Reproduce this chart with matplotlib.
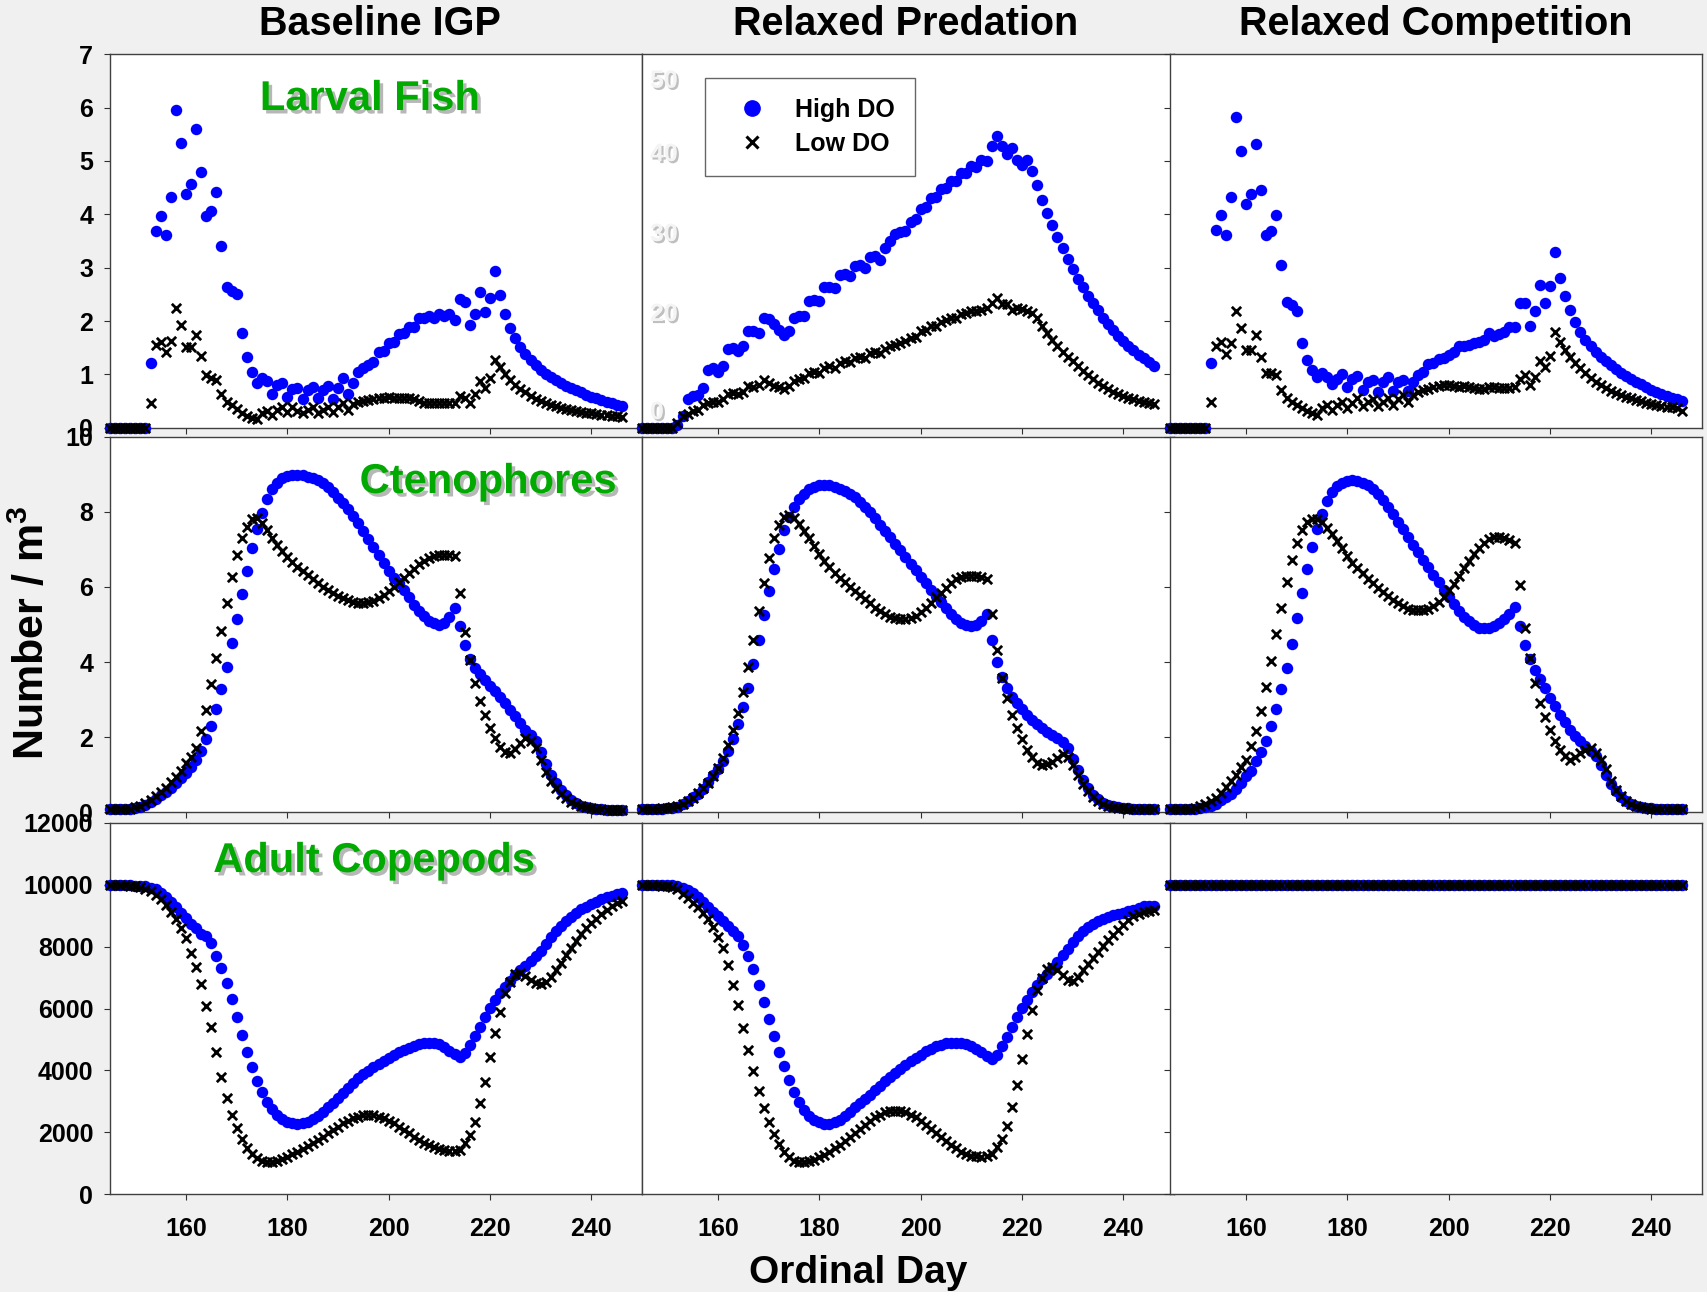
import matplotlib
matplotlib.use('Agg')
import matplotlib.pyplot as plt
import matplotlib.patheffects as pe
from matplotlib.lines import Line2D

plt.rcParams['font.family'] = ['Liberation Sans', 'DejaVu Sans']
plt.rcParams['font.weight'] = 'bold'
plt.rcParams['mathtext.fontset'] = 'custom'
plt.rcParams['mathtext.rm'] = 'Liberation Sans'
plt.rcParams['mathtext.bf'] = 'Liberation Sans:bold'

# ordinal days 145 .. 246
days = list(range(145, 247))

col_titles = ['Baseline IGP', 'Relaxed Predation', 'Relaxed Competition']
row_names = ['Larval Fish', 'Ctenophores', 'Adult Copepods']
legend_labels = ['High DO', 'Low DO']
x_ticks = [160, 180, 200, 220, 240]
ghost_labels = ['50', '40', '30', '20', '0']

# ---- Larval fish ----
fish_base_high = [0, 0, 0, 0, 0,
    0, 0, 0, 1.21, 3.69, 3.96, 3.61, 4.33, 5.96, 5.34,
    4.39, 4.57, 5.60, 4.79, 3.97, 4.07, 4.41, 3.41, 2.63, 2.57,
    2.50, 1.78, 1.33, 1.05, 0.84, 0.94, 0.88, 0.64, 0.80, 0.83,
    0.57, 0.72, 0.74, 0.54, 0.71, 0.77, 0.55, 0.71, 0.78, 0.54,
    0.74, 0.94, 0.64, 0.84, 1.05, 1.11, 1.17, 1.24, 1.41, 1.44,
    1.59, 1.61, 1.75, 1.77, 1.88, 1.88, 2.05, 2.05, 2.10, 2.05,
    2.14, 2.09, 2.14, 2.02, 2.41, 2.36, 1.93, 2.14, 2.54, 2.16,
    2.44, 2.94, 2.49, 2.13, 1.86, 1.68, 1.52, 1.38, 1.27, 1.18,
    1.09, 1.01, 0.95, 0.89, 0.83, 0.78, 0.74, 0.70, 0.66, 0.62,
    0.58, 0.55, 0.52, 0.49, 0.46, 0.43, 0.40]
fish_base_low = [0, 0, 0, 0, 0,
    0, 0, 0, 0.47, 1.55, 1.61, 1.41, 1.63, 2.24, 1.93,
    1.52, 1.52, 1.73, 1.34, 0.99, 0.94, 0.89, 0.63, 0.49, 0.43,
    0.35, 0.27, 0.22, 0.19, 0.16, 0.27, 0.32, 0.23, 0.33, 0.39,
    0.30, 0.38, 0.32, 0.27, 0.34, 0.38, 0.28, 0.34, 0.39, 0.29,
    0.38, 0.46, 0.33, 0.44, 0.49, 0.50, 0.52, 0.54, 0.55, 0.56,
    0.57, 0.55, 0.55, 0.56, 0.56, 0.54, 0.50, 0.47, 0.47, 0.46,
    0.46, 0.46, 0.46, 0.46, 0.59, 0.55, 0.47, 0.64, 0.87, 0.75,
    0.93, 1.26, 1.14, 1.00, 0.89, 0.80, 0.72, 0.66, 0.59, 0.54,
    0.50, 0.46, 0.43, 0.40, 0.37, 0.35, 0.33, 0.31, 0.29, 0.28,
    0.27, 0.26, 0.24, 0.23, 0.22, 0.21, 0.20]
fish_pred_high = [0, 0, 0, 0, 0,
    0, 0, 0.4, 1.5, 3.9, 4.3, 4.4, 5.3, 7.7, 8.0,
    7.5, 8.3, 10.6, 10.7, 10.3, 10.9, 13.0, 13.0, 12.7, 14.7,
    14.6, 13.9, 13.1, 12.4, 12.9, 14.7, 15.0, 14.9, 16.9, 17.1,
    16.9, 18.8, 18.9, 18.7, 20.5, 20.6, 20.3, 21.6, 21.8, 21.4,
    22.9, 23.0, 22.5, 24.0, 25.0, 25.9, 26.2, 26.3, 27.6, 28.0,
    29.3, 29.5, 30.8, 30.9, 32.0, 32.1, 33.1, 33.1, 34.1, 34.1,
    35.0, 34.9, 35.8, 35.7, 37.7, 39.0, 37.7, 36.7, 37.4, 35.8,
    35.2, 35.9, 34.4, 32.5, 30.5, 28.8, 27.1, 25.5, 24.0, 22.6,
    21.2, 19.9, 18.8, 17.7, 16.7, 15.7, 14.7, 13.9, 13.1, 12.3,
    11.6, 11.0, 10.4, 9.8, 9.3, 8.8, 8.2]
fish_pred_low = [0, 0, 0, 0, 0,
    0, 0, 0.6, 1.6, 1.9, 2.2, 2.4, 3.0, 3.3, 3.5,
    3.4, 3.9, 4.5, 4.6, 4.5, 4.8, 5.6, 5.5, 5.7, 6.4,
    6.0, 5.6, 5.4, 5.2, 5.6, 6.3, 6.5, 6.6, 7.3, 7.4,
    7.3, 8.0, 8.2, 8.0, 8.7, 8.9, 8.8, 9.3, 9.5, 9.4,
    10.0, 10.1, 10.0, 10.6, 11.0, 11.1, 11.4, 11.6, 12.0, 12.2,
    12.9, 13.1, 13.6, 13.6, 14.2, 14.4, 14.7, 14.7, 15.2, 15.3,
    15.6, 15.6, 15.8, 16.0, 16.7, 17.4, 16.5, 16.5, 15.8, 16.0,
    15.9, 15.6, 15.3, 14.7, 13.6, 12.7, 11.8, 11.0, 10.2, 9.5,
    8.9, 8.2, 7.6, 7.1, 6.5, 6.0, 5.6, 5.2, 4.8, 4.5,
    4.2, 4.0, 3.8, 3.6, 3.4, 3.3, 3.2]
fish_comp_high = [0, 0, 0, 0, 0,
    0, 0, 0, 1.22, 3.71, 3.98, 3.62, 4.32, 5.82, 5.18,
    4.20, 4.39, 5.31, 4.46, 3.62, 3.69, 3.98, 3.05, 2.36, 2.30,
    2.19, 1.59, 1.27, 1.08, 0.95, 1.03, 0.95, 0.81, 0.92, 1.00,
    0.76, 0.91, 0.96, 0.70, 0.86, 0.90, 0.67, 0.85, 0.95, 0.69,
    0.85, 0.89, 0.69, 0.85, 0.98, 1.05, 1.20, 1.22, 1.28, 1.30,
    1.36, 1.42, 1.53, 1.53, 1.55, 1.58, 1.61, 1.65, 1.78, 1.72,
    1.75, 1.79, 1.89, 1.88, 2.33, 2.33, 1.91, 2.19, 2.68, 2.33,
    2.66, 3.29, 2.80, 2.46, 2.20, 1.99, 1.80, 1.65, 1.53, 1.42,
    1.33, 1.25, 1.17, 1.10, 1.03, 0.97, 0.91, 0.86, 0.81, 0.76,
    0.71, 0.67, 0.63, 0.60, 0.56, 0.53, 0.50]
fish_comp_low = [0, 0, 0, 0, 0,
    0, 0, 0, 0.48, 1.53, 1.61, 1.38, 1.58, 2.19, 1.86,
    1.45, 1.45, 1.74, 1.33, 1.02, 1.02, 0.98, 0.70, 0.55, 0.48,
    0.42, 0.36, 0.31, 0.28, 0.24, 0.36, 0.42, 0.34, 0.43, 0.48,
    0.37, 0.46, 0.55, 0.41, 0.48, 0.53, 0.41, 0.49, 0.56, 0.42,
    0.53, 0.61, 0.48, 0.61, 0.67, 0.70, 0.73, 0.76, 0.78, 0.80,
    0.80, 0.78, 0.76, 0.78, 0.76, 0.75, 0.73, 0.73, 0.76, 0.76,
    0.75, 0.75, 0.75, 0.76, 0.92, 0.98, 0.80, 0.95, 1.25, 1.14,
    1.35, 1.79, 1.61, 1.45, 1.33, 1.22, 1.11, 1.02, 0.93, 0.86,
    0.80, 0.74, 0.69, 0.65, 0.61, 0.58, 0.55, 0.52, 0.50, 0.47,
    0.45, 0.43, 0.41, 0.39, 0.38, 0.36, 0.31]

# ---- Ctenophores ----
cteno_base_high = [0.10, 0.10, 0.10, 0.10, 0.10,
    0.12, 0.15, 0.20, 0.27, 0.35, 0.45, 0.55, 0.66, 0.78, 0.91,
    1.05, 1.20, 1.38, 1.63, 1.94, 2.31, 2.75, 3.28, 3.86, 4.50,
    5.15, 5.80, 6.42, 7.03, 7.53, 7.96, 8.33, 8.60, 8.78, 8.90,
    8.96, 8.99, 8.99, 8.97, 8.94, 8.90, 8.85, 8.77, 8.66, 8.53,
    8.38, 8.23, 8.07, 7.90, 7.71, 7.50, 7.28, 7.07, 6.85, 6.63,
    6.42, 6.25, 6.10, 5.92, 5.72, 5.52, 5.36, 5.22, 5.10, 5.03,
    5.00, 5.05, 5.20, 5.45, 4.95, 4.45, 4.07, 3.85, 3.68, 3.52,
    3.37, 3.22, 3.07, 2.90, 2.73, 2.56, 2.38, 2.20, 2.05, 1.90,
    1.60, 1.28, 1.00, 0.78, 0.60, 0.45, 0.33, 0.24, 0.18, 0.14,
    0.11, 0.09, 0.08, 0.07, 0.06, 0.06, 0.05]
cteno_base_low = [0.08, 0.08, 0.08, 0.09, 0.10,
    0.13, 0.18, 0.25, 0.33, 0.43, 0.54, 0.66, 0.80, 0.95, 1.10,
    1.30, 1.48, 1.70, 2.17, 2.72, 3.41, 4.10, 4.84, 5.58, 6.27,
    6.85, 7.29, 7.60, 7.80, 7.83, 7.71, 7.52, 7.29, 7.12, 6.97,
    6.81, 6.67, 6.54, 6.42, 6.32, 6.21, 6.11, 6.01, 5.92, 5.83,
    5.76, 5.70, 5.65, 5.61, 5.58, 5.58, 5.60, 5.63, 5.70, 5.79,
    5.89, 6.01, 6.12, 6.25, 6.36, 6.48, 6.60, 6.70, 6.78, 6.83,
    6.85, 6.85, 6.85, 6.83, 5.85, 4.81, 4.05, 3.43, 2.95, 2.59,
    2.24, 1.97, 1.75, 1.61, 1.59, 1.68, 1.84, 1.97, 1.91, 1.70,
    1.39, 1.08, 0.83, 0.64, 0.49, 0.37, 0.28, 0.21, 0.16, 0.13,
    0.11, 0.09, 0.08, 0.07, 0.07, 0.06, 0.06]
cteno_pred_high = [0.10, 0.10, 0.10, 0.10, 0.10,
    0.11, 0.12, 0.15, 0.22, 0.30, 0.40, 0.50, 0.63, 0.80, 0.98,
    1.14, 1.36, 1.63, 1.94, 2.34, 2.80, 3.32, 3.94, 4.58, 5.24,
    5.89, 6.49, 7.00, 7.51, 7.87, 8.13, 8.34, 8.47, 8.60, 8.67,
    8.71, 8.72, 8.71, 8.67, 8.62, 8.56, 8.48, 8.39, 8.27, 8.14,
    7.99, 7.84, 7.66, 7.49, 7.32, 7.15, 6.98, 6.80, 6.62, 6.44,
    6.27, 6.10, 5.93, 5.76, 5.60, 5.43, 5.27, 5.14, 5.04, 4.98,
    4.96, 5.00, 5.10, 5.27, 4.60, 4.00, 3.60, 3.30, 3.08, 2.90,
    2.74, 2.60, 2.47, 2.36, 2.25, 2.15, 2.06, 1.97, 1.88, 1.70,
    1.42, 1.13, 0.86, 0.64, 0.47, 0.35, 0.26, 0.20, 0.16, 0.14,
    0.12, 0.11, 0.10, 0.10, 0.09, 0.09, 0.09]
cteno_pred_low = [0.10, 0.10, 0.10, 0.10, 0.11,
    0.12, 0.14, 0.17, 0.21, 0.29, 0.38, 0.52, 0.65, 0.78, 0.96,
    1.18, 1.45, 1.79, 2.18, 2.65, 3.21, 3.88, 4.60, 5.36, 6.10,
    6.78, 7.30, 7.64, 7.87, 7.92, 7.83, 7.67, 7.49, 7.30, 7.09,
    6.89, 6.69, 6.52, 6.38, 6.25, 6.13, 6.01, 5.89, 5.79, 5.67,
    5.56, 5.45, 5.36, 5.27, 5.20, 5.16, 5.14, 5.14, 5.16, 5.23,
    5.32, 5.43, 5.58, 5.72, 5.85, 5.98, 6.10, 6.20, 6.27, 6.29,
    6.29, 6.28, 6.27, 6.20, 5.27, 4.31, 3.58, 3.05, 2.59, 2.25,
    1.94, 1.67, 1.47, 1.32, 1.27, 1.29, 1.34, 1.45, 1.54, 1.47,
    1.27, 1.00, 0.76, 0.56, 0.41, 0.29, 0.22, 0.17, 0.14, 0.12,
    0.11, 0.10, 0.09, 0.09, 0.08, 0.08, 0.08]
cteno_comp_high = [0.08, 0.08, 0.08, 0.08, 0.09,
    0.10, 0.11, 0.13, 0.17, 0.22, 0.32, 0.40, 0.50, 0.62, 0.78,
    0.96, 1.11, 1.36, 1.60, 1.91, 2.29, 2.74, 3.27, 3.85, 4.49,
    5.18, 5.85, 6.49, 7.07, 7.54, 7.94, 8.28, 8.52, 8.69, 8.78,
    8.83, 8.84, 8.83, 8.78, 8.71, 8.60, 8.47, 8.31, 8.13, 7.94,
    7.74, 7.54, 7.33, 7.12, 6.92, 6.71, 6.52, 6.32, 6.12, 5.91,
    5.72, 5.54, 5.36, 5.21, 5.08, 4.98, 4.92, 4.90, 4.92, 4.96,
    5.03, 5.14, 5.27, 5.47, 4.96, 4.45, 4.09, 3.80, 3.54, 3.30,
    3.05, 2.83, 2.60, 2.41, 2.20, 2.03, 1.89, 1.76, 1.63, 1.49,
    1.27, 1.00, 0.76, 0.56, 0.40, 0.29, 0.22, 0.17, 0.14, 0.12,
    0.11, 0.10, 0.09, 0.09, 0.08, 0.08, 0.08]
cteno_comp_low = [0.08, 0.08, 0.08, 0.09, 0.10,
    0.12, 0.16, 0.22, 0.29, 0.38, 0.52, 0.67, 0.83, 1.00, 1.20,
    1.40, 1.76, 2.16, 2.71, 3.33, 4.03, 4.74, 5.45, 6.12, 6.71,
    7.16, 7.51, 7.72, 7.80, 7.80, 7.72, 7.58, 7.40, 7.23, 7.03,
    6.83, 6.65, 6.50, 6.36, 6.22, 6.10, 5.98, 5.87, 5.76, 5.65,
    5.56, 5.48, 5.42, 5.39, 5.38, 5.39, 5.42, 5.49, 5.61, 5.74,
    5.91, 6.09, 6.29, 6.50, 6.68, 6.87, 7.05, 7.18, 7.27, 7.33,
    7.33, 7.30, 7.24, 7.16, 6.05, 4.92, 4.10, 3.43, 2.92, 2.53,
    2.18, 1.89, 1.67, 1.49, 1.40, 1.47, 1.58, 1.67, 1.72, 1.58,
    1.40, 1.14, 0.84, 0.60, 0.43, 0.31, 0.22, 0.17, 0.13, 0.11,
    0.10, 0.09, 0.09, 0.08, 0.08, 0.08, 0.08]

# ---- Adult copepods ----
cope_base_high = [10000, 9995, 9990, 9985, 9980,
    9970, 9960, 9940, 9900, 9845, 9738, 9609, 9447, 9264, 9071,
    8909, 8740, 8590, 8420, 8340, 8102, 7704, 7295, 6832, 6305,
    5724, 5143, 4605, 4121, 3658, 3293, 2991, 2744, 2561, 2432,
    2346, 2292, 2270, 2292, 2346, 2432, 2539, 2668, 2808, 2959,
    3120, 3282, 3443, 3605, 3745, 3874, 3992, 4100, 4207, 4304,
    4412, 4498, 4584, 4659, 4724, 4788, 4842, 4874, 4896, 4896,
    4842, 4745, 4638, 4519, 4444, 4552, 4820, 5111, 5412, 5713,
    6004, 6273, 6510, 6703, 6897, 7080, 7241, 7381, 7532, 7693,
    7866, 8070, 8296, 8500, 8672, 8834, 8963, 9092, 9200, 9286,
    9372, 9447, 9523, 9587, 9640, 9690, 9720]
cope_base_low = [9990, 9985, 9980, 9975, 9965,
    9950, 9920, 9870, 9780, 9662, 9522, 9339, 9125, 8877, 8586,
    8264, 7801, 7349, 6789, 6079, 5412, 4584, 3798, 3099, 2561,
    2130, 1775, 1506, 1302, 1162, 1087, 1054, 1054, 1087, 1141,
    1216, 1291, 1377, 1463, 1560, 1646, 1754, 1861, 1969, 2077,
    2184, 2292, 2378, 2453, 2507, 2550, 2561, 2550, 2507, 2453,
    2378, 2292, 2184, 2077, 1969, 1861, 1754, 1668, 1582, 1517,
    1463, 1431, 1410, 1410, 1431, 1646, 1915, 2346, 2937, 3637,
    4444, 5197, 5896, 6488, 6865, 7112, 7155, 7048, 6919, 6811,
    6779, 6865, 7026, 7241, 7478, 7726, 7962, 8188, 8393, 8586,
    8748, 8899, 9039, 9178, 9307, 9400, 9460]
cope_pred_high = [10000, 9995, 9990, 9990, 9985,
    9985, 9980, 9960, 9900, 9825, 9740, 9615, 9455, 9290, 9130,
    8990, 8830, 8670, 8490, 8341, 8060, 7694, 7285, 6746, 6207,
    5668, 5108, 4591, 4138, 3707, 3319, 2996, 2737, 2543, 2414,
    2328, 2274, 2274, 2328, 2414, 2543, 2672, 2813, 2953, 3082,
    3222, 3373, 3513, 3653, 3782, 3922, 4052, 4181, 4300, 4407,
    4504, 4612, 4698, 4774, 4828, 4871, 4892, 4892, 4881, 4838,
    4785, 4698, 4591, 4461, 4354, 4504, 4774, 5075, 5399, 5722,
    6013, 6282, 6530, 6746, 6940, 7123, 7306, 7500, 7715, 7931,
    8147, 8341, 8502, 8632, 8739, 8826, 8901, 8955, 9009, 9063,
    9095, 9138, 9192, 9246, 9300, 9320, 9300]
cope_pred_low = [9990, 9985, 9980, 9975, 9965,
    9950, 9925, 9850, 9709, 9569, 9418, 9278, 9095, 8901, 8632,
    8308, 7953, 7414, 6767, 6099, 5377, 4666, 3976, 3330, 2791,
    2349, 1950, 1627, 1379, 1196, 1088, 1034, 1034, 1067, 1121,
    1196, 1282, 1379, 1487, 1595, 1713, 1843, 1972, 2112, 2241,
    2381, 2489, 2575, 2651, 2694, 2705, 2694, 2651, 2575, 2489,
    2381, 2252, 2112, 1972, 1843, 1713, 1595, 1487, 1379, 1304,
    1250, 1228, 1218, 1228, 1304, 1519, 1789, 2220, 2813, 3535,
    4354, 5162, 5938, 6584, 6983, 7263, 7339, 7231, 7069, 6907,
    6886, 7015, 7231, 7446, 7629, 7823, 8006, 8200, 8384, 8545,
    8707, 8847, 8976, 9063, 9117, 9149, 9170]
cope_comp_high = [10000, 10000, 10000, 10000, 10000,
    10000, 10000, 10000, 10000, 10000, 10000, 10000, 10000, 10000, 10000,
    10000, 10000, 10000, 10000, 10000, 10000, 10000, 10000, 10000, 10000,
    10000, 10000, 10000, 10000, 10000, 10000, 10000, 10000, 10000, 10000,
    10000, 10000, 10000, 10000, 10000, 10000, 10000, 10000, 10000, 10000,
    10000, 10000, 10000, 10000, 10000, 10000, 10000, 10000, 10000, 10000,
    10000, 10000, 10000, 10000, 10000, 10000, 10000, 10000, 10000, 10000,
    10000, 10000, 10000, 10000, 10000, 10000, 10000, 10000, 10000, 10000,
    10000, 10000, 10000, 10000, 10000, 10000, 10000, 10000, 10000, 10000,
    10000, 10000, 10000, 10000, 10000, 10000, 10000, 10000, 10000, 10000,
    10000, 10000, 10000, 10000, 10000, 10000, 10000]
cope_comp_low = list(cope_comp_high)

series = [
    [(fish_base_high, fish_base_low), (fish_pred_high, fish_pred_low), (fish_comp_high, fish_comp_low)],
    [(cteno_base_high, cteno_base_low), (cteno_pred_high, cteno_pred_low), (cteno_comp_high, cteno_comp_low)],
    [(cope_base_high, cope_base_low), (cope_pred_high, cope_pred_low), (cope_comp_high, cope_comp_low)],
]
row_ylim = [(0, 7), (0, 10), (0, 12000)]
row_yticks = [[0, 1, 2, 3, 4, 5, 6, 7], [0, 2, 4, 6, 8, 10], [0, 2000, 4000, 6000, 8000, 10000, 12000]]

# figure in pixels
W, H = 1708, 1292
fig = plt.figure(figsize=(W / 100, H / 100), dpi=100, facecolor='#f0f0f0')

col_left = [110, 642, 1170]
col_w = 532
row_top = [54.3, 436.7, 822.7]
row_bot = [427.7, 812.3, 1194.3]

green = '#00aa00'
shadow = [pe.SimplePatchShadow(offset=(2.5, -2.5), shadow_rgbFace='#888888', alpha=0.6), pe.Normal()]
label_pos = [(370, 110), (488, 493), (374, 872)]

axes = {}
for r in range(3):
    for c in range(3):
        ax = fig.add_axes([col_left[c] / W, 1 - row_bot[r] / H, col_w / W, (row_bot[r] - row_top[r]) / H])
        axes[r, c] = ax
        high, low = series[r][c]
        ax.scatter(days, high, s=68, color='#0000ff', linewidths=0, zorder=3, clip_on=False)
        ax.scatter(days, low, s=45, marker='x', color='black', linewidths=2.0, zorder=4, clip_on=False)
        ax.set_xlim(145, 250)
        ax.set_xticks(x_ticks)
        if r == 0 and c == 1:
            ax.set_ylim(0, 50)
        else:
            ax.set_ylim(*row_ylim[r])
            ax.set_yticks(row_yticks[r])
        for sp in ax.spines.values():
            sp.set_color('#404040')
            sp.set_linewidth(1.0)
        ax.tick_params(axis='both', direction='out', length=4, width=0.8, color='#303030',
                       labelsize=18, pad=8)
        ax.tick_params(axis='x', pad=12, labelbottom=(r == 2))
        if c == 0:
            ax.tick_params(axis='y', labelleft=True)
        elif c == 1:
            ax.tick_params(axis='y', length=0, labelleft=False)
        else:
            ax.tick_params(axis='y', labelleft=False)

# column titles
title_x = [380, 906, 1436]
for c in range(3):
    fig.text(title_x[c] / W, 1 - 35 / H, col_titles[c], fontsize=28.5, fontweight='bold',
             ha='center', va='baseline')

# green panel labels
for r in range(3):
    x, y = label_pos[r]
    fig.text(x / W, 1 - y / H, row_names[r], fontsize=30, fontweight='bold', color=green,
             ha='center', va='baseline', path_effects=shadow)

# faded tick labels on the relaxed predation larval panel
ghost_y = [80.7, 154, 234, 314, 412]
ghost_fx = [pe.SimplePatchShadow(offset=(1.5, -1.5), shadow_rgbFace='#b0b0b0', alpha=0.8), pe.Normal()]
for lab, gy in zip(ghost_labels, ghost_y):
    fig.text(650 / W, 1 - gy / H, lab, fontsize=18, fontweight='bold', color='#f4f4f4',
             ha='left', va='center', path_effects=ghost_fx, zorder=5)

# legend
handles = [Line2D([], [], marker='o', ls='', color='#0000ff', markersize=11),
           Line2D([], [], marker='x', ls='', color='black', markersize=8, markeredgewidth=2.2)]
leg = fig.legend(handles, legend_labels, loc='upper left', bbox_to_anchor=(705 / W, 1 - 78 / H),
                 bbox_transform=fig.transFigure, fontsize=18, frameon=True, fancybox=False,
                 borderpad=0.8, handlelength=2.2, handletextpad=0.6, labelspacing=0.4,
                 borderaxespad=0)
leg.get_frame().set_edgecolor('#404040')
leg.get_frame().set_linewidth(1.0)
for t in leg.get_texts():
    t.set_fontweight('bold')

# axis labels
fig.text(32 / W, 1 - 633 / H, r'Number / m$^{\mathbf{3}}$', fontsize=31, fontweight='bold',
         rotation=90, ha='center', va='center')
fig.text(858 / W, 1 - 1283 / H, 'Ordinal Day', fontsize=28, fontweight='bold',
         ha='center', va='baseline')

fig.savefig('out.png', dpi=100, facecolor=fig.get_facecolor())
